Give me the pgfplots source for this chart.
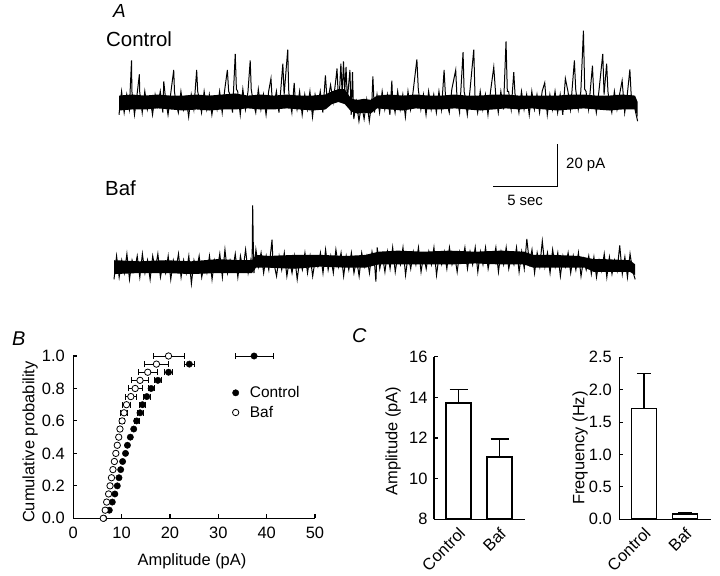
\documentclass[border=0pt]{standalone}
\usepackage{pgfplots}
\pgfplotsset{compat=1.18}
\usepackage{fontspec}
\setmainfont{Liberation Sans}

\pgfplotsset{
  panel/.style={
    scale only axis, axis lines*=left, tick align=inside,
    major tick length=4bp,
    axis line style={line width=1.1bp, black},
    every tick/.style={line width=1.1bp, black},
    tick label style={font=\fontsize{16.5}{19}\selectfont},
    label style={font=\fontsize{16.5}{19}\selectfont},
    /pgf/number format/assume math mode=true,
  },
  trace/.style={
    scale only axis, hide axis, clip=false, ymin=-10, ymax=35,
  },
}

\begin{document}
\begin{tikzpicture}
\useasboundingbox (0,0) rectangle (720bp,-576bp);

% ---- panel letters and trace labels
\node[anchor=base west, inner sep=0, font=\itshape\fontsize{19}{22}\selectfont] at (113bp,-17bp) {A};
\node[anchor=base west, inner sep=0, font=\fontsize{20.5}{24}\selectfont] at (106bp,-46.5bp) {Control};
\node[anchor=base west, inner sep=0, font=\fontsize{20.5}{24}\selectfont] at (105bp,-195.5bp) {Baf};
\node[anchor=base west, inner sep=0, font=\itshape\fontsize{20}{24}\selectfont] at (12bp,-345bp) {B};
\node[anchor=base west, inner sep=0, font=\itshape\fontsize{20}{24}\selectfont] at (352bp,-342bp) {C};

% ---- Control trace
\begin{axis}[trace, at={(119bp,-123.3bp)}, anchor=south west,
  width=518.6bp, height=95.9bp, xmin=0, xmax=40.2]
% dense core of the noise band
\addplot[fill=black, draw=none] coordinates {
(0,3)(1,3.5)(2,3)(3,3.5)(4,3)(5,3)(6,3.5)(7,3)(8,3.5)(9,4)(10,3)(11,3.5)(12,3)(13,3.5)(14,3)(15,3)(16,3.5)(16.5,5)(17,6)(17.5,6)(18,1.5)(18.5,1)(19,1.5)(19.5,1)(20,3)(21,3.5)(22,3)(23,3.5)(24,3)(25,3)(26,3.5)(27,3)(28,3)(29,3.5)(30,3.5)(31,3)(32,3)(33,3)(34,3)(35,3.5)(36,3.5)(37,3)(38,3)(39,3.5)(40,3)(40.2,0)
(40.2,-7)(40,-3.5)(39,-3.5)(38,-4)(37,-3.5)(36,-3)(35,-3.5)(34,-4)(33,-3.5)(32,-3)(31,-3.5)(30,-3)(29,-3.5)(28,-4)(27,-3.5)(26,-3)(25,-3.5)(24,-3.5)(23,-3)(22,-4)(21,-3.5)(20,-3)(19.5,-5.5)(19,-5)(18.5,-5.5)(18,-4.5)(17.5,-1)(17,0)(16.5,-1)(16,-3.5)(15,-4)(14,-3.5)(13,-3)(12,-3.5)(11,-3.5)(10,-3)(9,-3.5)(8,-3.5)(7,-4)(6,-3.5)(5,-4)(4,-3.5)(3,-3)(2,-3.5)(1,-3.5)(0,-4)
};
\addplot[black, line width=1bp] coordinates {
(0,-6)(0.2,5)(0.4,-5)(0.6,3.5)(0.8,-3.5)(0.97,19.5)(1.0,5)(1.2,-6)(1.4,3.5)(1.58,13)(1.6,5)(1.8,-5)(2.0,5)(2.2,-3.5)(2.4,2)(2.6,-6)(2.8,3.5)(3.0,-2)(3.2,5)(3.4,-5)(3.47,9.7)(3.6,2)(3.8,-6)(4.0,3.5)(4.24,15)(4.3,5)(4.4,0)(4.6,-5)(4.8,5)(5.0,-3.5)(5.2,2)(5.4,-7)(5.6,3.5)(5.8,-3.5)(6.02,15)(6.1,5)(6.2,2)(6.4,-5)(6.6,5)(6.8,-3.5)(7.0,3.5)(7.2,-6)(7.4,2)(7.6,-3.5)(7.8,5)(8.0,-5)(8.2,6)(8.4,15)(8.5,5)(8.6,3.5)(8.8,-5)(9.01,22.6)(9.1,6)(9.2,5)(9.4,-6)(9.6,6)(9.8,-3.5)(10.0,5)(10.17,19.5)(10.25,6)(10.4,0)(10.6,-5)(10.8,6)(11.0,-3.5)(11.2,3.5)(11.4,-6)(11.6,5)(11.78,11)(11.85,3.5)(12.0,-2)(12.2,5)(12.4,-5)(12.7,18)(12.8,3.5)(13.08,24.6)(13.15,6)(13.2,2)(13.4,-5)(13.58,9)(13.65,2)(13.8,-3.5)(14.0,5)(14.2,-6)(14.4,3.5)(14.6,-3.5)(14.8,5)(15.0,-7)(15.2,3.5)(15.4,-2)(15.6,5)(15.8,-5)(16.0,12.5)(16.1,3.5)(16.2,1)(16.4,8)(16.6,0)(16.8,10)(16.9,15.7)(17.0,2)(17.1,6)(17.2,18)(17.3,3)(17.4,19)(17.5,5)(17.6,16.5)(17.7,1)(17.9,15)(18.0,-6)(18.1,14)(18.2,-8)(18.4,0)(18.6,-9)(18.8,-1)(19.0,-8)(19.2,1)(19.4,-9)(19.6,0)(19.68,12)(19.8,-5)(20.0,3.5)(20.2,-5)(20.4,5)(20.6,-3.5)(20.8,3.5)(21.0,-6)(21.15,10)(21.2,2)(21.4,-5)(21.6,5)(21.8,-3.5)(22.0,3.5)(22.2,-7)(22.4,5)(22.6,-3.5)(22.8,5)(23.09,20)(23.2,6)(23.4,-3.5)(23.6,3.5)(23.8,-6)(24.0,5)(24.2,-3.5)(24.4,3.5)(24.6,-5)(24.8,5)(25.0,-3.5)(25.2,15)(25.3,3.5)(25.4,0)(25.6,-5)(25.8,6)(26.1,15)(26.2,2)(26.4,-5)(26.67,23.4)(26.75,5)(26.8,3.5)(27.0,-6)(27.2,5)(27.5,24.6)(27.6,2)(27.8,-5)(28.0,5)(28.2,-3.5)(28.4,3.5)(28.6,-6)(28.8,5)(29.05,16.4)(29.2,3.5)(29.4,-5)(29.6,5)(29.8,-3.5)(30.0,28.4)(30.1,5)(30.2,5)(30.4,-3.5)(30.6,14)(30.7,3.5)(30.8,2)(31.0,-5)(31.2,5)(31.4,-3.5)(31.6,3.5)(31.8,-6)(32.0,5)(32.2,-3.5)(32.4,3.5)(32.6,-5)(32.8,5)(33.0,9)(33.2,-6)(33.4,3.5)(33.6,-3.5)(33.8,5)(34.0,-5)(34.2,3.5)(34.4,-6)(34.6,11)(34.8,5)(35.0,-3.5)(35.3,19.5)(35.4,6)(35.6,-3.5)(35.8,5)(36.0,33.5)(36.1,6)(36.2,5)(36.4,-3.5)(36.7,17)(36.8,3.5)(37.0,-5)(37.2,5)(37.5,22.6)(37.6,3.5)(37.8,18)(37.9,5)(38.0,0)(38.2,-5)(38.4,5)(38.6,-3.5)(38.8,3.5)(39.0,10)(39.2,-5)(39.4,3.5)(39.6,15.3)(39.7,3.5)(39.8,2)(40.0,-3.5)(40.2,-9)
};
% scale bar
\draw[black, line width=1.2bp] (axis cs:29,-39.8) -- (axis cs:34,-39.8) -- (axis cs:34,-19.7);
\node[anchor=base west, inner sep=0, font=\fontsize{15}{18}\selectfont] at (axis cs:34.65,-31) {20 pA};
\node[anchor=base west, inner sep=0, font=\fontsize{15}{18}\selectfont] at (axis cs:30.08,-48.4) {5 sec};
\end{axis}

% ---- Baf trace
\begin{axis}[trace, at={(114bp,-285.8bp)}, anchor=south west,
  width=521.2bp, height=95.9bp, xmin=0, xmax=40.4]
\addplot[fill=black, draw=none] coordinates {
(0,2)(2,1.5)(4,2)(6,1.5)(8,2.5)(10,2)(10.7,2)(11,4.5)(12,4)(14,4.5)(16,4.5)(18,4)(19.5,4.5)(20.5,6)(22,6.5)(24,6)(26,6.5)(28,6)(30,6.5)(31.8,6)(32.5,4.5)(34,4.5)(36,4)(37.2,2.5)(38,2.5)(40,2)(40.4,0)
(40.4,-5)(40,-3.5)(38,-3.5)(37.2,-3.5)(36.5,-1.5)(34,-1.5)(32.5,-1.5)(31.8,0)(30,0)(28,0.5)(26,0)(24,0)(22,0)(20.5,0)(19.5,-1.5)(18,-1.5)(16,-1)(14,-2)(12,-1.5)(11,-1.5)(10.7,-4)(10,-4)(8,-4)(6,-4.5)(4,-4)(2,-4)(0,-4.5)
};
\addplot[black, line width=1bp] coordinates {
(0,-7)(0.2,4)(0.4,-6)(0.6,2)(0.8,-4)(1.0,5)(1.2,-7)(1.4,2)(1.6,-2.5)(1.8,4)(2.0,-6)(2.2,5)(2.4,-4)(2.6,2)(2.8,-7)(3.0,4)(3.2,-2.5)(3.4,5)(3.6,-6)(3.8,0.5)(4.0,-4)(4.2,4)(4.4,-7)(4.6,2)(4.8,-2.5)(5.0,5)(5.2,-6)(5.4,2)(5.6,-4)(5.8,4)(6.0,-9)(6.2,2)(6.4,-2.5)(6.6,4)(6.8,-6)(7.0,0.5)(7.2,-4)(7.4,4)(7.6,-7)(7.8,2)(8.0,-2.5)(8.2,5)(8.4,-6)(8.6,7)(8.8,-4)(9.0,2)(9.2,-2.5)(9.4,5)(9.6,-6)(9.8,4)(10.0,-2.5)(10.2,7)(10.4,-4)(10.6,2)(10.7,-2.5)(10.75,27.7)(10.8,8)(10.85,-4)(11.0,7)(11.2,-1)(11.4,5.5)(11.6,-4)(11.8,4)(12.0,-2.5)(12.25,11.7)(12.3,4)(12.4,0.5)(12.6,-5.5)(12.8,4)(13.0,-2.5)(13.2,5.5)(13.4,-5.5)(13.6,2.5)(13.8,-4)(14.0,4)(14.2,-7)(14.4,2.5)(14.6,-2.5)(14.8,5.5)(15.0,-4)(15.2,4)(15.4,-5.5)(15.6,2.5)(15.8,-1)(16.0,5.5)(16.2,-4)(16.4,7)(16.6,-2.5)(16.8,4)(17.0,-4)(17.2,7)(17.4,-1)(17.6,5.5)(17.8,-5.5)(18.0,4)(18.2,-2.5)(18.4,5.5)(18.6,-4)(18.8,2.5)(19.0,-5.5)(19.2,5.5)(19.4,-1)(19.6,4)(19.8,-4)(20.0,6)(20.2,0)(20.3,-8)(20.4,8)(20.6,-2)(20.8,4.5)(21.0,-3.5)(21.2,6)(21.4,-2)(21.6,8)(21.8,-3.5)(22.0,4.5)(22.2,0)(22.4,8)(22.6,-5)(22.8,4.5)(23.0,-2)(23.2,6)(23.4,0)(23.6,8)(23.8,-3.5)(24.0,4.5)(24.2,-2)(24.4,6)(24.6,0)(24.8,8)(25.0,-5)(25.2,4.5)(25.4,0)(25.6,6)(25.8,-2)(26.0,8)(26.2,0)(26.4,4.5)(26.6,-3.5)(26.8,6)(27.0,1.5)(27.2,8)(27.4,-2)(27.6,6)(27.8,0)(28.0,8)(28.2,-3.5)(28.4,6)(28.6,0)(28.8,8)(29.0,-2)(29.2,4.5)(29.4,1.5)(29.6,8)(29.8,-3.5)(30.0,6)(30.2,0)(30.4,8)(30.6,-2)(30.8,4.5)(31.0,0)(31.2,8)(31.4,-3.5)(31.6,6)(31.8,-2)(32.0,12)(32.2,0.5)(32.4,7)(32.6,-4)(32.8,5.5)(33.0,-1)(33.2,11)(33.4,-1)(33.6,5.5)(33.8,-4)(34.0,7)(34.2,-1)(34.4,5.5)(34.6,-5.5)(34.8,4)(35.0,-1)(35.2,5.5)(35.4,-4)(35.6,4)(35.8,-2.5)(36.0,5.5)(36.2,-5.5)(36.4,2.5)(36.6,-2.5)(36.8,4)(37.0,-4.5)(37.2,3.5)(37.4,-6)(37.6,2)(37.8,-3)(38.0,5)(38.2,-6)(38.4,3.5)(38.6,-4.5)(38.8,2)(39.0,-3)(39.2,9)(39.4,-4.5)(39.6,3.5)(39.8,-6)(40.0,5)(40.2,-3)(40.4,-7)
};
\end{axis}

% ---- Panel B: cumulative probability
\begin{axis}[panel, at={(73.3bp,-518.3bp)}, anchor=south west,
  width=241.7bp, height=162.3bp, clip=false,
  xmin=0, xmax=50, ymin=0, ymax=1,
  xtick={0,10,20,30,40,50}, ytick={0,0.2,0.4,0.6,0.8,1.0},
  yticklabel style={xshift=-5bp, /pgf/number format/.cd, fixed, fixed zerofill, precision=1},
  xticklabel style={yshift=-5bp},
  xlabel={Amplitude (pA)}, ylabel={Cumulative probability},
  xlabel style={at={(axis description cs:0.491,-0.265)}, anchor=center},
  ylabel style={at={(axis description cs:-0.179,0.47)}, anchor=center},
  legend image code/.code={\path (-6bp,0bp) (12bp,0bp); \draw[#1] plot coordinates {(0bp,0bp)};},
  legend style={at={(axis description cs:0.633,0.838)}, anchor=north west,
    draw=none, fill=none, font=\fontsize{15.5}{18.5}\selectfont, row sep=3bp},
  legend cell align=left,
]
\addplot[only marks, mark=*, mark size=3.2bp, mark options={fill=black, draw=black},
  error bars/.cd, x dir=both, x explicit,
  error bar style={line width=0.8bp, black},
  error mark options={rotate=90, mark size=3bp, line width=0.8bp, black}]
 table[x=x, y=y, x error=ex] {
x y ex
6.3 0.00 0
7.45 0.05 0
8.07 0.10 0
8.6 0.15 0
9.1 0.20 0
9.45 0.25 0
9.8 0.30 0
10.2 0.35 0
10.8 0.40 0
11.2 0.45 0
11.8 0.50 0
12.5 0.55 0
13.1 0.60 0.5
13.8 0.65 0.6
14.3 0.70 0.6
15.2 0.75 0.7
16.1 0.80 0.6
17.5 0.85 0.7
19.7 0.90 0.8
24.0 0.95 1.0
37.4 1.00 3.9
};
\addlegendentry{Control}
\addplot[only marks, mark=*, mark size=3.2bp, mark options={fill=white, draw=black, line width=0.8bp},
  error bars/.cd, x dir=both, x explicit,
  error bar style={line width=0.8bp, black},
  error mark options={rotate=90, mark size=3bp, line width=0.8bp, black}]
 table[x=x, y=y, x error=ex] {
x y ex
6.2 0.00 0
6.6 0.05 0
6.9 0.10 0
7.3 0.15 0
7.6 0.20 0
7.9 0.25 0
8.2 0.30 0
8.5 0.35 0
8.8 0.40 0
9.1 0.45 0
9.4 0.50 0
9.65 0.55 0
10.1 0.60 0.5
10.5 0.65 0.7
11.0 0.70 0.9
11.9 0.75 1.2
12.8 0.80 1.5
13.8 0.85 1.8
15.4 0.90 1.9
17.2 0.95 2.5
19.7 1.00 3.2
};
\addlegendentry{Baf}
\end{axis}

% ---- Panel C left: amplitude
\begin{axis}[panel, at={(434bp,-519.3bp)}, anchor=south west,
  width=91bp, height=162.6bp,
  xmin=0.402, xmax=2.622, ymin=8, ymax=16,
  ytick={8,10,12,14,16}, xtick={1,2}, xticklabels={Control,Baf},
  xtick style={draw=none}, yticklabel style={xshift=-3bp},
  xticklabel style={rotate=45, anchor=north east, xshift=-2bp, yshift=-1bp},
  ylabel={Amplitude (pA)},
  ylabel style={at={(axis description cs:-0.45,0.48)}, anchor=center},
]
\addplot[ybar, bar width=25bp, fill=white, draw=black, line width=1.8bp,
  error bars/.cd, y dir=plus, y explicit,
  error bar style={line width=1.3bp, black},
  error mark options={rotate=90, mark size=9bp, line width=1.3bp, black}]
 coordinates {(1,13.72) +- (0,0.68) (2,11.05) +- (0,0.9)};
\end{axis}

% ---- Panel C right: frequency
\begin{axis}[panel, at={(619.3bp,-519.3bp)}, anchor=south west,
  width=91.4bp, height=162bp,
  xmin=0.402, xmax=2.622, ymin=0, ymax=2.5,
  ytick={0,0.5,1.0,1.5,2.0,2.5}, xtick={1,2}, xticklabels={Control,Baf},
  yticklabel style={xshift=-4bp, /pgf/number format/.cd, fixed, fixed zerofill, precision=1},
  xtick style={draw=none},
  xticklabel style={rotate=45, anchor=north east, xshift=-2bp, yshift=-1bp},
  ylabel={Frequency (Hz)},
  ylabel style={at={(axis description cs:-0.43,0.44)}, anchor=center},
]
\addplot[ybar, bar width=25bp, fill=white, draw=black, line width=1.8bp,
  error bars/.cd, y dir=plus, y explicit,
  error bar style={line width=1.3bp, black},
  error mark options={rotate=90, mark size=7bp, line width=1.3bp, black}]
 coordinates {(1,1.71) +- (0,0.54) (2,0.08) +- (0,0.025)};
\end{axis}
\end{tikzpicture}
\end{document}
